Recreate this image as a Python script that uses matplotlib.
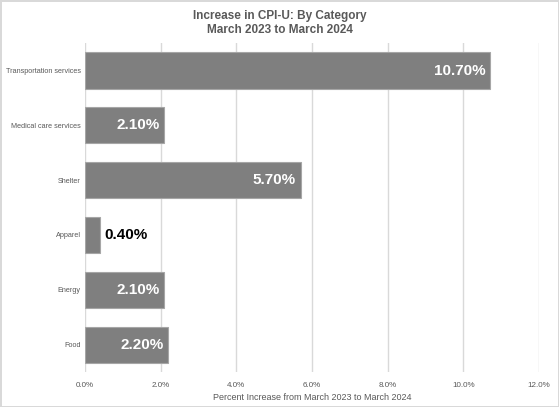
import matplotlib
matplotlib.use("Agg")
import matplotlib.pyplot as plt
from matplotlib.ticker import FuncFormatter

# ================= DATA ===================
categories = ["Transportation services", "Medical care services", "Shelter",
              "Apparel", "Energy", "Food"]
values = [10.7, 2.1, 5.7, 0.4, 2.1, 2.2]
xticks = [0, 2, 4, 6, 8, 10, 12]

plt.rcParams['font.family'] = ['Liberation Sans', 'DejaVu Sans']

# ================= FIGURE ===================
fig = plt.figure(figsize=(5.59, 4.07), dpi=100)
fig.patch.set_edgecolor('#d9d9d9')
fig.patch.set_linewidth(2)
ax = fig.add_axes([0.152, 0.086, 0.812, 0.808])

ypos = list(range(len(categories)))
bars = ax.barh(ypos, values, height=0.66, color='#7f7f7f', edgecolor='#a6a6a6',
               linewidth=0.8, zorder=3)

# value labels: white inside the bar, black outside for the short one
for b, v in zip(bars, values):
    yc = b.get_y() + b.get_height() / 2
    if v < 1:
        ax.text(v + 0.12, yc, f"{v:.2f}%", va='center', ha='left',
                color='black', fontsize=11, fontweight='bold')
    else:
        ax.text(v - 0.12, yc, f"{v:.2f}%", va='center', ha='right',
                color='white', fontsize=11, fontweight='bold')

ax.set_ylim(len(categories) - 0.5, -0.5)
ax.set_yticks(ypos)
ax.set_yticklabels(categories)
ax.set_xlim(0, 12)
ax.set_xticks(xticks)
ax.xaxis.set_major_formatter(FuncFormatter(lambda x, p: f"{x:.1f}%"))
ax.tick_params(length=0, colors='#595959')
ax.tick_params(axis='x', pad=7, labelsize=5.8)
ax.tick_params(axis='y', pad=3, labelsize=5.2)
ax.grid(axis='x', color='#d9d9d9', linewidth=1, zorder=0)
for s in ax.spines.values():
    s.set_visible(False)

ax.set_xlabel("Percent Increase from March 2023 to March 2024", fontsize=6.5,
              color='#595959', labelpad=3)
fig.suptitle("Increase in CPI-U: By Category\nMarch 2023 to March 2024", y=0.975,
             fontsize=8.5, fontweight='bold', color='#595959', linespacing=1.15)

fig.savefig("out.png", dpi=100, edgecolor=fig.get_edgecolor())
